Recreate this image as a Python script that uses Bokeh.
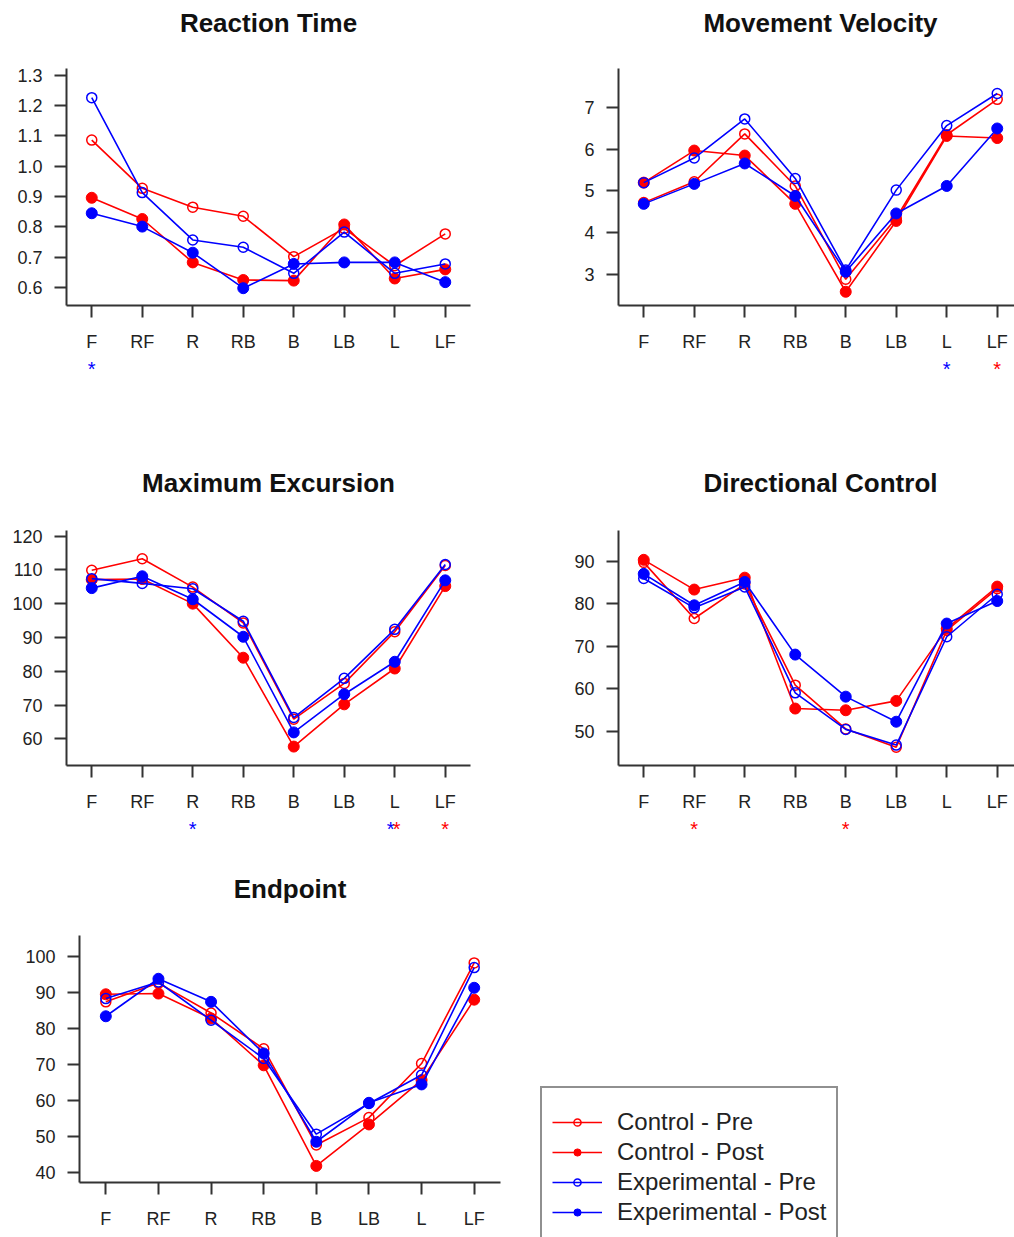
from bokeh.plotting import figure
from bokeh.layouts import column, row
from bokeh.models import (FixedTicker, PrintfTickFormatter, Range1d, Legend, LegendItem,
                          ColumnDataSource)
from bokeh.embed import file_html
from bokeh.resources import INLINE

# ---------------- data ----------------
directions = ["F", "RF", "R", "RB", "B", "LB", "L", "LF"]
x_pos = [1, 2, 3, 4, 5, 6, 7, 8]

series_names = ["Control - Pre", "Control - Post", "Experimental - Pre", "Experimental - Post"]
series_colors = ["red", "red", "blue", "blue"]
series_filled = [False, True, False, True]

# Reaction Time
rt_ctrl_pre = [1.086, 0.927, 0.865, 0.835, 0.702, 0.795, 0.672, 0.777]
rt_ctrl_post = [0.896, 0.826, 0.683, 0.625, 0.623, 0.808, 0.630, 0.660]
rt_exp_pre = [1.226, 0.913, 0.757, 0.733, 0.647, 0.783, 0.647, 0.678]
rt_exp_post = [0.845, 0.801, 0.715, 0.598, 0.678, 0.683, 0.683, 0.618]
rt_ticks = [0.6, 0.7, 0.8, 0.9, 1.0, 1.1, 1.2, 1.3]
rt_star_x = [1]
rt_star_color = ["blue"]

# Movement Velocity
mv_ctrl_pre = [4.72, 5.22, 6.37, 5.12, 2.88, 4.35, 6.35, 7.20]
mv_ctrl_post = [5.20, 5.97, 5.85, 4.69, 2.58, 4.28, 6.32, 6.27]
mv_exp_pre = [5.20, 5.79, 6.73, 5.30, 3.10, 5.02, 6.57, 7.34]
mv_exp_post = [4.69, 5.17, 5.66, 4.88, 3.06, 4.46, 5.12, 6.50]
mv_ticks = [3, 4, 5, 6, 7]
mv_star_x = [7, 8]
mv_star_color = ["blue", "red"]

# Maximum Excursion
me_ctrl_pre = [109.9, 113.3, 104.9, 94.3, 65.8, 76.4, 91.7, 111.3]
me_ctrl_post = [107.1, 107.3, 100.0, 84.0, 57.7, 70.2, 80.8, 105.2]
me_exp_pre = [107.4, 106.0, 104.4, 94.8, 66.3, 77.9, 92.4, 111.6]
me_exp_post = [104.6, 108.1, 101.3, 90.2, 61.9, 73.2, 82.8, 106.9]
me_ticks = [60, 70, 80, 90, 100, 110, 120]
me_star_x = [3, 7, 7, 8]
me_star_color = ["blue", "blue", "red", "red"]
me_star_nudge = [0, -4, 2, 0]

# Directional Control
dc_ctrl_pre = [89.7, 76.5, 84.6, 60.8, 50.5, 46.2, 73.7, 83.5]
dc_ctrl_post = [90.3, 83.3, 86.1, 55.3, 54.9, 57.1, 74.1, 84.0]
dc_exp_pre = [85.9, 79.0, 83.9, 59.0, 50.4, 46.7, 72.2, 82.2]
dc_exp_post = [87.0, 79.6, 85.1, 68.0, 58.1, 52.2, 75.3, 80.6]
dc_ticks = [50, 60, 70, 80, 90]
dc_star_x = [2, 5]
dc_star_color = ["red", "red"]

# Endpoint
ep_ctrl_pre = [87.3, 92.5, 84.2, 74.3, 47.6, 55.2, 70.2, 98.1]
ep_ctrl_post = [89.4, 89.6, 82.7, 69.7, 41.8, 53.3, 65.6, 87.9]
ep_exp_pre = [88.2, 92.8, 82.2, 71.6, 50.6, 59.1, 67.0, 96.8]
ep_exp_post = [83.3, 93.7, 87.3, 73.0, 48.5, 59.3, 64.4, 91.2]
ep_ticks = [40, 50, 60, 70, 80, 90, 100]

FONT = "Liberation Sans"
TXT = "#222222"
X_FULL = (0.5, 8.5)
X_CLIP = (0.5, 8.342)
X_MID = sum(x_pos) / len(x_pos)
PX_PER_UNIT = 50.5          # horizontal scale of the top four panels
# bottom-right strip starts 88 px left of the right panels' frame
X_BOTTOM_RIGHT = (X_CLIP[0] - 88 / PX_PER_UNIT, X_CLIP[1])
# bottom-left strip shares the Endpoint frame (79..500 px) but keeps the
# Maximum Excursion scale (frame starting at 66 px) for its stars
_s = X_FULL[0] + 13 / PX_PER_UNIT
X_BOTTOM_LEFT = (_s, _s + 421 / PX_PER_UNIT)


def blank_fig(width, height, x_rng, y_rng, left, right):
    g = figure(width=width, height=height, x_range=Range1d(*x_rng),
               y_range=Range1d(*y_rng),
               output_backend="svg", toolbar_location=None,
               x_axis_location=None, y_axis_location=None,
               min_border_left=left, min_border_right=right,
               min_border_top=0, min_border_bottom=0)
    g.outline_line_color = None
    g.xgrid.visible = False
    g.ygrid.visible = False
    return g


def strip(width, height, x_rng, left, right, title=None, title_y=None, title_x=X_MID,
          stars=None, star_y=None):
    """Blank strip holding the significance stars of the panel above and the
    title of the panel below (its y runs in pixels from the strip's top)."""
    g = blank_fig(width, height, x_rng, (height, 0), left, right)
    if stars is not None:
        sx, scol, sdx = stars
        src = ColumnDataSource(dict(x=sx, c=scol, dx=sdx or [0] * len(sx),
                                    t=["*"] * len(sx)))
        g.text(x="x", y=star_y, text="t", source=src, text_color="c",
               text_font={"value": FONT}, text_font_size="20px",
               text_align="center", text_baseline="middle",
               x_offset="dx", y_offset=2)
    if title is not None:
        src = ColumnDataSource(dict(x=[title_x], y=[title_y], t=[title]))
        g.text(x="x", y="y", text="t", source=src, text_color="#111111",
               text_font={"value": FONT}, text_font_size="26px",
               text_font_style="bold", text_align="center",
               text_baseline="middle")
    return g


def style_axes(p, yticks, yfmt):
    for ax in (p.xaxis[0], p.yaxis[0]):
        ax.axis_line_width = 2
        ax.axis_line_color = "#333333"
        ax.major_tick_line_width = 2
        ax.major_tick_line_color = "#333333"
        ax.major_tick_out = 12
        ax.major_tick_in = 0
        ax.minor_tick_line_color = None
        ax.major_label_text_font = FONT
        ax.major_label_text_font_size = "18px"
        ax.major_label_text_color = TXT
    p.xaxis.ticker = FixedTicker(ticks=x_pos, minor_ticks=[])
    p.xaxis.major_label_overrides = {x: d for x, d in zip(x_pos, directions)}
    p.xaxis.major_label_standoff = 14
    p.yaxis.ticker = FixedTicker(ticks=yticks, minor_ticks=[])
    p.yaxis.formatter = PrintfTickFormatter(format=yfmt)
    p.yaxis.major_label_standoff = 12


def draw_series(p, series):
    rends = []
    for vals, col, filled in zip(series, series_colors, series_filled):
        lr = p.line(x_pos, vals, line_color=col, line_width=1.6)
        if filled:
            sr = p.scatter(x_pos, vals, marker="circle", size=11,
                           fill_color=col, line_color=col, line_width=1)
        else:
            sr = p.scatter(x_pos, vals, marker="circle", size=10,
                           fill_color=None, line_color=col, line_width=1.5)
        rends.append((lr, sr))
    return rends


def make_panel(series, x_rng, y_rng, yticks, yfmt, width, height, borders):
    left, right, top, bottom = borders
    p = figure(width=width, height=height,
               x_range=Range1d(*x_rng), y_range=Range1d(*y_rng),
               output_backend="svg", toolbar_location=None,
               min_border_left=left, min_border_right=right,
               min_border_top=top, min_border_bottom=bottom)
    p.outline_line_color = None
    p.xgrid.visible = False
    p.ygrid.visible = False
    style_axes(p, yticks, yfmt)
    draw_series(p, series)
    return p


# titles of the first row
t1 = strip(560, 58, X_FULL, 66, 90, title="Reaction Time", title_y=22)
t2 = strip(454, 58, X_CLIP, 58, 0, title="Movement Velocity", title_y=22)

p1 = make_panel([rt_ctrl_pre, rt_ctrl_post, rt_exp_pre, rt_exp_post],
                X_FULL, (0.541, 1.322), rt_ticks, "%.1f", 560, 296, (66, 90, 10, 48))
p2 = make_panel([mv_ctrl_pre, mv_ctrl_post, mv_exp_pre, mv_exp_post],
                X_CLIP, (2.25, 7.94), mv_ticks, "%d", 454, 296, (58, 0, 10, 48))

g1 = strip(560, 166, X_FULL, 66, 90, title="Maximum Excursion", title_y=128,
           stars=(rt_star_x, rt_star_color, None), star_y=12)
g2 = strip(454, 166, X_CLIP, 58, 0, title="Directional Control", title_y=128,
           stars=(mv_star_x, mv_star_color, None), star_y=12)

p3 = make_panel([me_ctrl_pre, me_ctrl_post, me_exp_pre, me_exp_post],
                X_FULL, (52.1, 121.65), me_ticks, "%d", 560, 294, (66, 90, 10, 48))
p4 = make_panel([dc_ctrl_pre, dc_ctrl_post, dc_exp_pre, dc_exp_post],
                X_CLIP, (41.9, 97.2), dc_ticks, "%d", 454, 294, (58, 0, 10, 48))

# bottom-left: stars of Maximum Excursion + Endpoint title, then Endpoint panel
g3 = strip(530, 111, X_BOTTOM_LEFT, 79, 30, title="Endpoint", title_y=74,
           title_x=sum(X_BOTTOM_LEFT) / 2,
           stars=(me_star_x, me_star_color, me_star_nudge), star_y=12)
ep_series = [ep_ctrl_pre, ep_ctrl_post, ep_exp_pre, ep_exp_post]
p5 = make_panel(ep_series, X_FULL, (37.2, 105.7), ep_ticks, "%d", 530, 312,
                (79, 30, 10, 55))

# bottom-right: stars of Directional Control + the legend
pr = strip(484, 423, X_BOTTOM_RIGHT, 0, 0,
           stars=(dc_star_x, dc_star_color, None), star_y=12)
# the Endpoint series drawn again (far below this strip's view) to feed the legend
r_leg = draw_series(pr, [[-1000 - v for v in s] for s in ep_series])
items = [LegendItem(label=n, renderers=[lr, sr]) for n, (lr, sr) in zip(series_names, r_leg)]
legend = Legend(items=items, location=(10, -2), padding=10, spacing=0,
                glyph_width=50, glyph_height=18, label_height=30, label_standoff=15,
                label_text_font=FONT, label_text_font_size="24px", label_text_color=TXT,
                border_line_color="#222222", border_line_width=2,
                title=" ", title_text_font_size="6px", title_standoff=3,
                background_fill_color="white", background_fill_alpha=1.0, margin=0)
pr.add_layout(legend)

layout = column(row(t1, t2), row(p1, p2), row(g1, g2), row(p3, p4),
                row(column(g3, p5), pr))
open("out.html", "w").write(file_html(layout, INLINE))
